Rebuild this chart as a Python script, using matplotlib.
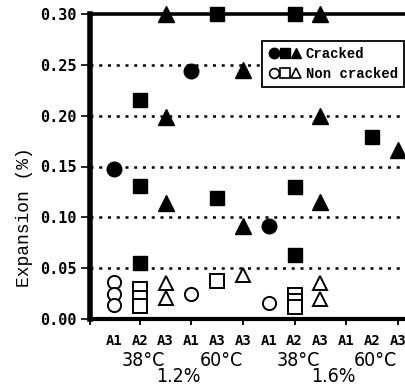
import matplotlib
matplotlib.use("Agg")
import matplotlib.pyplot as plt
from matplotlib.lines import Line2D
from matplotlib.legend_handler import HandlerTuple
import matplotlib.transforms as mtransforms

# ---- data ----
tick_labels = ['A1', 'A2', 'A3', 'A1', 'A3', 'A3', 'A1', 'A2', 'A3', 'A1', 'A2', 'A3']
aggregate = ['A1', 'A2', 'A3', 'A1', 'A2', 'A3', 'A1', 'A2', 'A3', 'A1', 'A2', 'A3']
temp_labels = ['38°C', '60°C', '38°C', '60°C']
alkali_labels = ['1.2%', '1.6%']
cracked = [
    [0.148],
    [0.215, 0.131, 0.055],
    [0.300, 0.199, 0.114],
    [0.244],
    [0.300, 0.119],
    [0.245, 0.091],
    [0.091],
    [0.300, 0.130, 0.063],
    [0.300, 0.200, 0.115],
    [],
    [0.179],
    [0.166],
]
non_cracked = [
    [0.036, 0.025, 0.014],
    [0.030, 0.021, 0.013],
    [0.035, 0.021],
    [0.025],
    [0.037],
    [0.043],
    [0.016],
    [0.024, 0.018, 0.012],
    [0.035, 0.020],
    [],
    [],
    [],
]
marker_of = {'A1': 'o', 'A2': 's', 'A3': '^'}
size_of = {'A1': 10.5, 'A2': 10.5, 'A3': 11.5}

mono = ['DejaVu Sans Mono']
courier = ['Liberation Mono', 'DejaVu Sans Mono']

fig = plt.figure(figsize=(4.06, 3.88), dpi=100)
W, H = 406, 388
ax = fig.add_axes([90 / W, 1 - 319 / H, (406 - 90) / W, (319 - 14) / H])

# gridlines
for g in [0.05, 0.10, 0.15, 0.20, 0.25]:
    ax.axhline(g, color='black', lw=1.8, ls=(0, (1.2, 2.3)), zorder=1)

# points
for i, agg in enumerate(aggregate):
    m = marker_of[agg]
    s = size_of[agg]
    for v in cracked[i]:
        ax.plot(i, v, marker=m, ms=s, color='black', mec='black', ls='none',
                zorder=3, clip_on=False)
    for v in non_cracked[i]:
        ax.plot(i, v, marker=m, ms=s - 1, mfc='white', mec='black', mew=1.4,
                ls='none', zorder=3, clip_on=False)

ax.set_xlim(-0.93, 11.32)
ax.set_ylim(0, 0.30)

# spines
ax.spines['right'].set_visible(False)
ax.spines['left'].set_linewidth(4.0)
ax.spines['bottom'].set_linewidth(3.0)
ax.spines['top'].set_linewidth(2.6)
for s in ax.spines.values():
    s.set_zorder(2)

# y ticks
ax.set_yticks([0.0, 0.05, 0.10, 0.15, 0.20, 0.25, 0.30])
ax.set_yticklabels(['0.00', '0.05', '0.10', '0.15', '0.20', '0.25', '0.30'],
                   fontfamily=mono, fontweight='bold', fontsize=11)
ax.tick_params(axis='y', length=6.5, width=1.2, pad=3)

# x ticks
ax.xaxis.remove_overlapping_locs = False
ax.set_xticks(range(len(tick_labels)))
ax.set_xticklabels(tick_labels, fontfamily=mono, fontweight='bold', fontsize=10)
ax.tick_params(axis='x', which='major', length=0, pad=11)
ax.set_xticks([-0.93, 1, 3, 5, 7, 9, 11], minor=True)
ax.tick_params(axis='x', which='minor', length=4.5, width=1.3)

# group labels
trans = mtransforms.blended_transform_factory(ax.transData, fig.transFigure)
for k, t in enumerate(temp_labels):
    ax.text(1 + 3 * k + 0.15, 1 - 360 / H, t, transform=trans, ha='center', va='center',
            fontsize=14, fontfamily=['Liberation Sans Narrow', 'DejaVu Sans'],
            fontstretch='condensed')
for k, t in enumerate(alkali_labels):
    ax.text(2.5 + 6 * k, 1 - 377 / H, t, transform=trans, ha='center', va='center',
            fontsize=14, fontfamily=['Liberation Sans Narrow', 'DejaVu Sans'],
            fontstretch='condensed')

# y label
fig.text(25 / W, 1 - 217 / H, 'Expansion (%)', rotation=90, ha='center', va='center',
         fontsize=13, fontfamily=courier)

# legend
def mk(m, filled):
    if filled:
        return Line2D([], [], marker=m, ms=7.5, color='black', ls='none')
    return Line2D([], [], marker=m, ms=7, mfc='white', mec='black', mew=1.2, ls='none')

h1 = (mk('o', True), mk('s', True), mk('^', True))
h2 = (mk('o', False), mk('s', False), mk('^', False))
leg = ax.legend([h1, h2], ['Cracked', 'Non cracked'],
                handler_map={tuple: HandlerTuple(ndivide=None, pad=0.05)},
                loc='upper left', bbox_to_anchor=((262 - 90) / 316, (319 - 41) / 305),
                prop={'family': courier, 'weight': 'bold', 'size': 10},
                handlelength=2.4, handletextpad=0.3, borderpad=0.45, labelspacing=0.4,
                borderaxespad=0, frameon=True, fancybox=False, framealpha=1)
leg.get_frame().set_edgecolor('black')
leg.get_frame().set_linewidth(1.3)
leg.set_zorder(5)

fig.savefig('out.png', dpi=100)
